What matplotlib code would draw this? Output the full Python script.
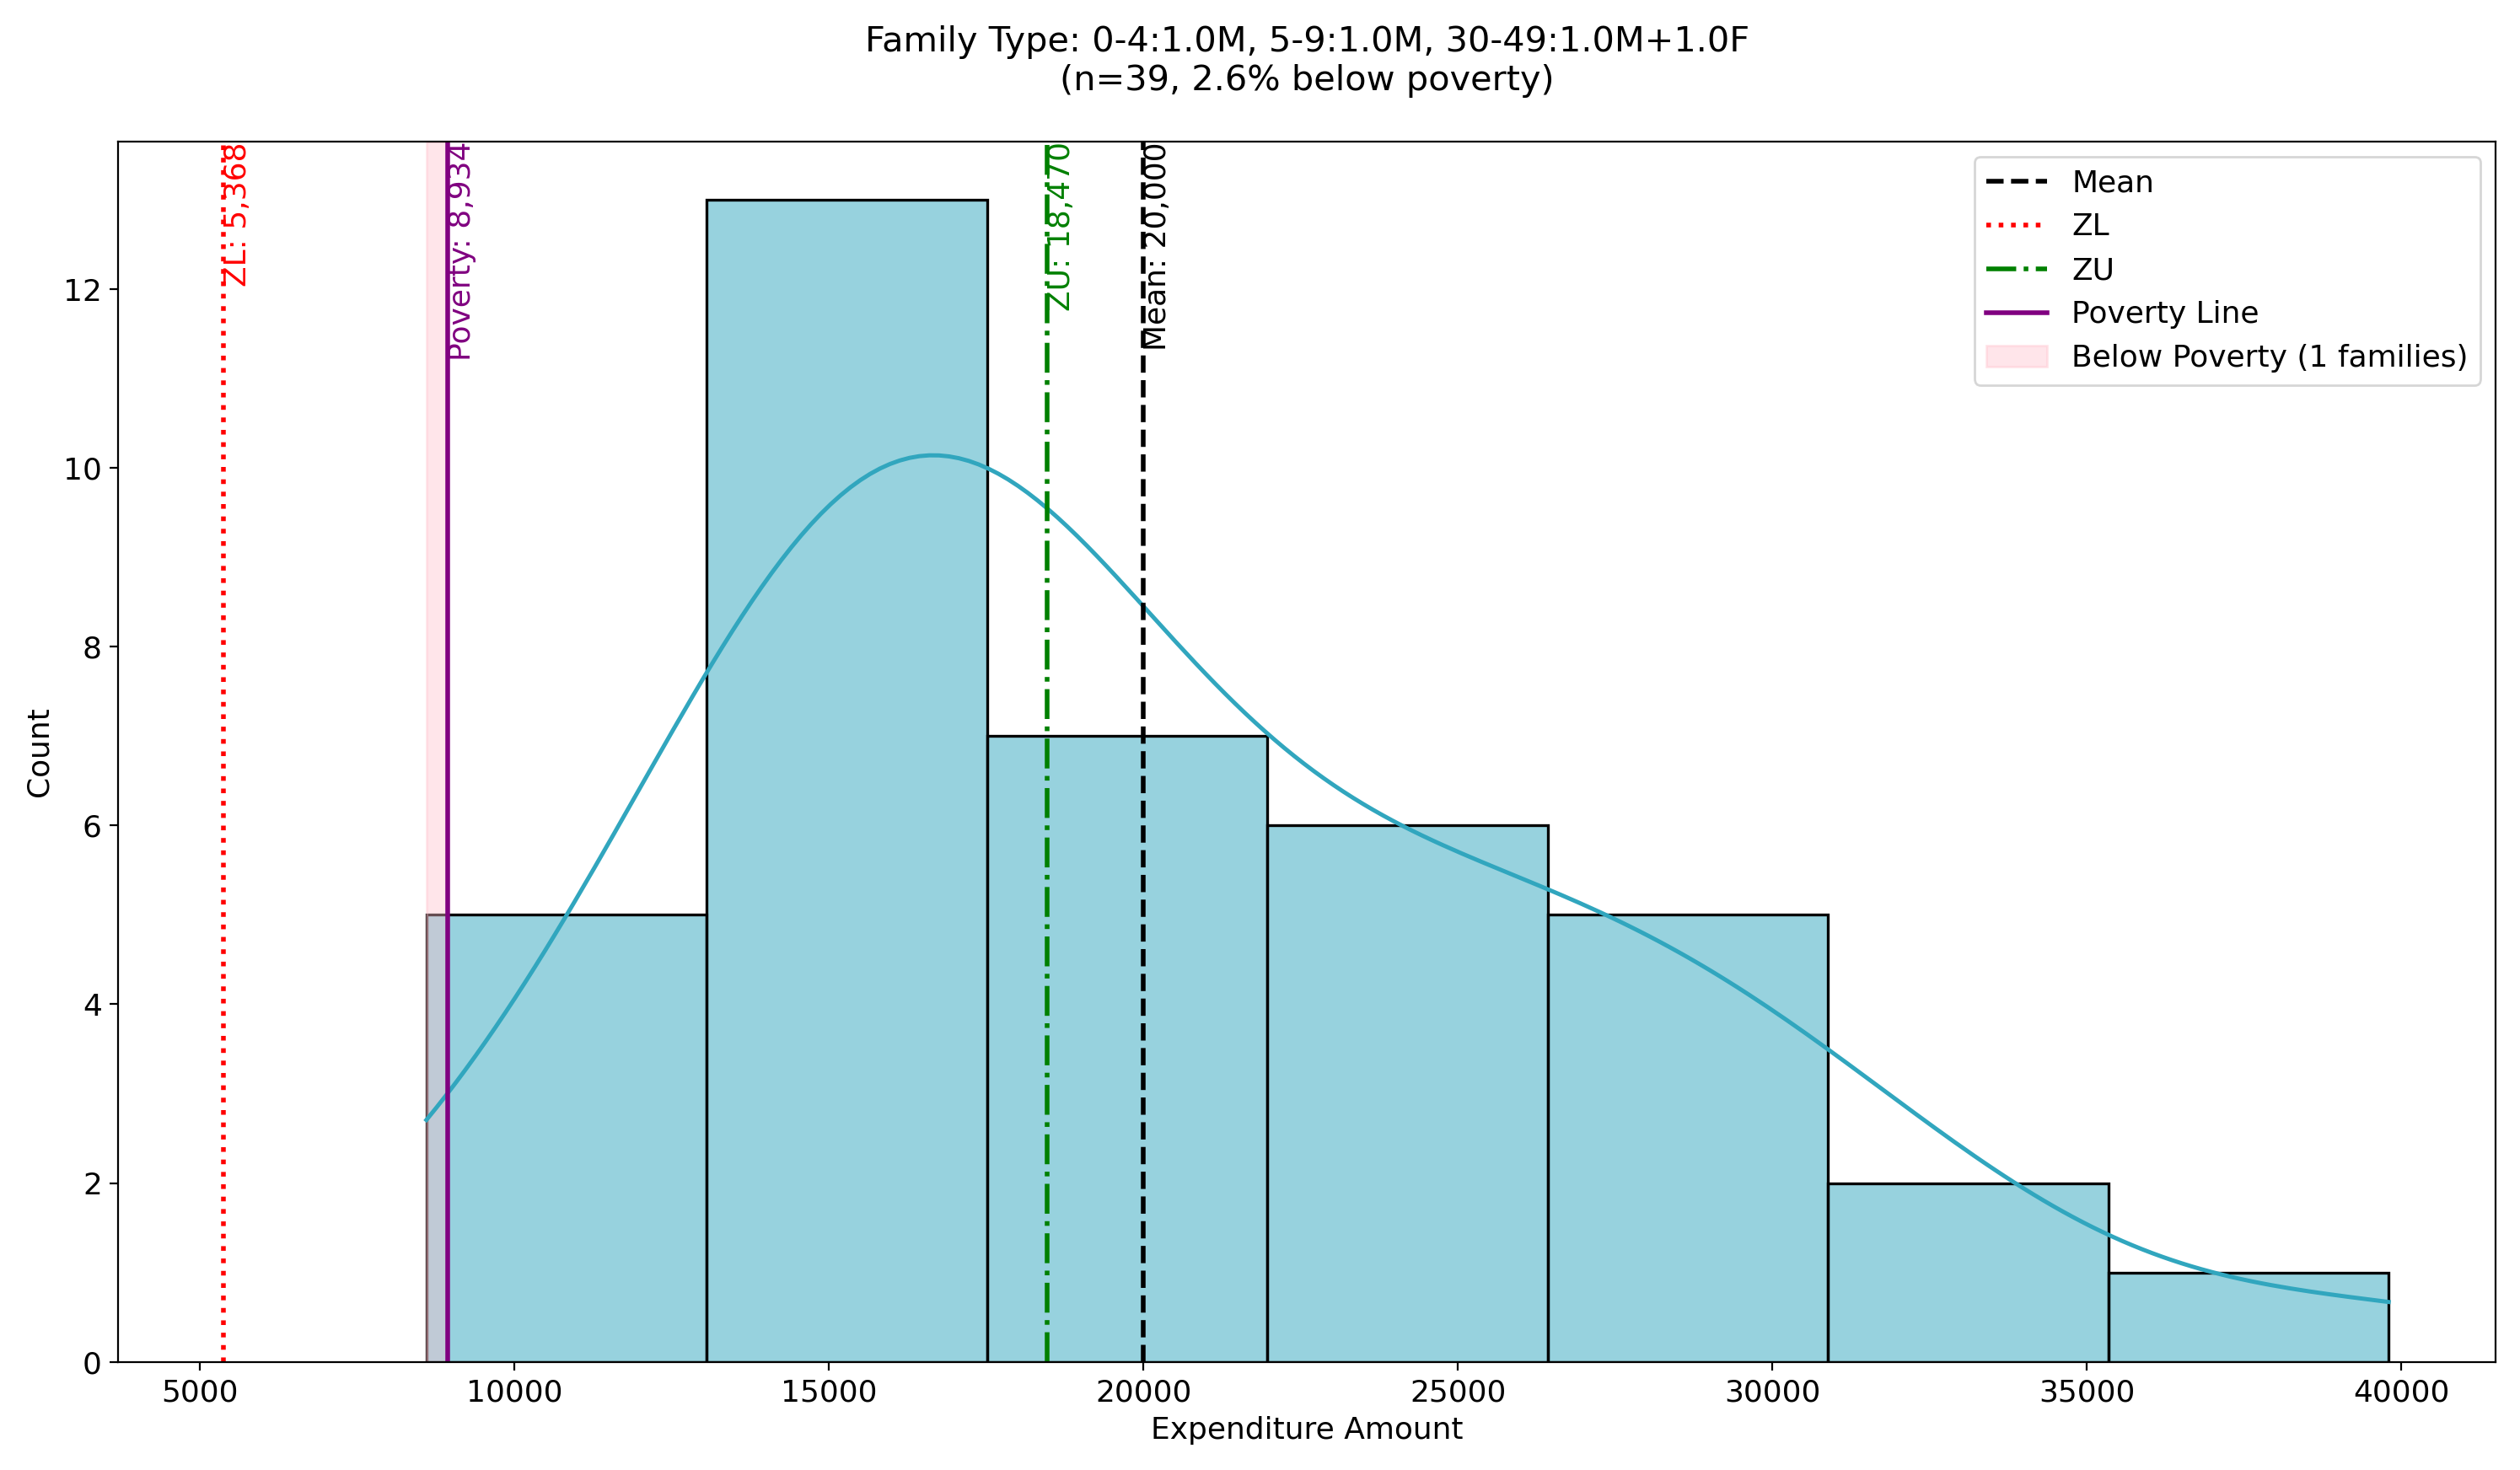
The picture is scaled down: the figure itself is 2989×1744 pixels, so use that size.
import matplotlib
matplotlib.use("Agg")
import matplotlib.pyplot as plt
import seaborn as sns

values = [8600, 10500, 11600, 12300, 12900,
          13900, 14300, 14700, 15000, 15300, 15600, 15900, 16200, 16500, 16800, 17000, 17200, 17400,
          17700, 18100, 18600, 19200, 19800, 20600, 21400,
          22400, 23100, 23800, 24500, 25300, 26000,
          27000, 27800, 28600, 29400, 30300,
          31800, 33500,
          39800]
mean_val = 20000
zl = 5368
zu = 18470
poverty = 8934

fig, ax = plt.subplots(figsize=(15, 8.75), dpi=199.33)
sns.histplot(values, bins=7, kde=True, color="#31a6be", edgecolor="black", linewidth=1.2, ax=ax)
ax.lines[0].set_linewidth(1.8)
ax.axvline(mean_val, color="black", ls="--", lw=2, label="Mean")
ax.axvline(zl, color="red", ls=":", lw=2, label="ZL")
ax.axvline(zu, color="green", ls="-.", lw=2, label="ZU")
ax.axvline(poverty, color="purple", ls="-", lw=2, label="Poverty Line")
ax.axvspan(min(values), poverty, color="pink", alpha=0.4, label="Below Poverty (1 families)")
ax.set_ylim(0, 13.65)
ax.set_xlim(3700, 41500)
top = ax.get_ylim()[1]
for x, txt, c in [(mean_val, f"Mean: {mean_val:,}", "black"), (zl, f"ZL: {zl:,}", "red"),
                  (zu, f"ZU: {zu:,}", "green"), (poverty, f"Poverty: {poverty:,}", "purple")]:
    ax.text(x, top, txt, rotation=90, va="top", ha="left", color=c, fontsize=13)
ax.set_xlabel("Expenditure Amount", fontsize=13)
ax.set_ylabel("Count", fontsize=13)
ax.tick_params(labelsize=13)
ax.set_title("Family Type: 0-4:1.0M, 5-9:1.0M, 30-49:1.0M+1.0F\n(n=39, 2.6% below poverty)", fontsize=15, pad=22)
ax.legend(fontsize=13, loc="upper right")
fig.tight_layout()
fig.savefig("out.png")
